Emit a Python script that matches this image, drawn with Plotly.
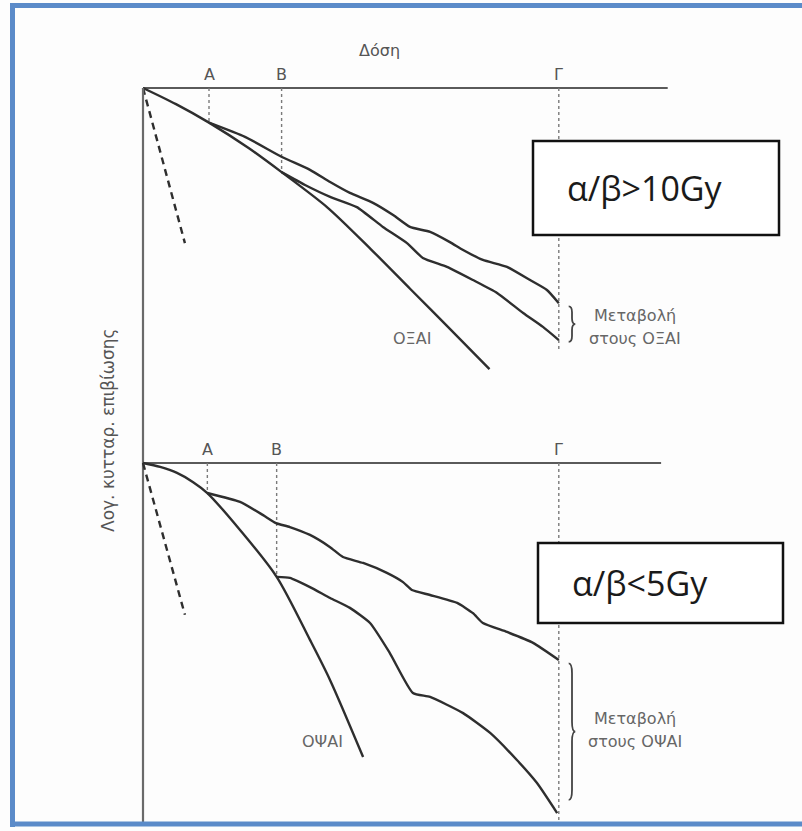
import plotly.graph_objects as go

# ---------------------------------------------------------------------------
# Canvas geometry (pixels)
W, H = 802, 831
PX = 33.0                 # pixels per unit on both axes
X0 = 143                  # pixel column of zero dose
Y0_TOP, Y0_BOT = 88, 463  # pixel rows of zero log-survival in each panel

# ---------------------------------------------------------------------------
# Dose marks (same dose units as the curves)
top_mark_names = ["A", "B", "Γ"]
top_mark_doses = [2.0, 4.2, 12.6]
bot_mark_names = ["A", "B", "Γ"]
bot_mark_doses = [1.95, 4.05, 12.6]

# Upper panel: early-responding tissues (α/β > 10 Gy)
top_single_dose = [0, 1.0, 2.0, 3.2, 4.2, 5.6, 6.9, 8.1, 9.3, 10.5]
top_single_logs = [0, -0.49, -1.05, -1.82, -2.55, -3.63, -4.88, -6.09, -7.30, -8.52]

top_fracA_dose = [2.0, 3.09, 4.21, 5.06, 5.67, 6.27, 6.97, 7.58, 8.09, 8.70,
                  9.30, 9.70, 10.30, 11.03, 11.73, 12.24, 12.6]
top_fracA_logs = [-1.05, -1.48, -2.09, -2.48, -2.85, -3.18, -3.48, -3.85, -4.21, -4.36,
                  -4.67, -4.91, -5.21, -5.42, -5.82, -6.12, -6.52]

top_fracB_dose = [4.2, 4.91, 5.67, 6.48, 7.27, 8.0, 8.48, 9.21, 10.0, 10.73,
                  11.52, 12.12, 12.6]
top_fracB_logs = [-2.55, -2.94, -3.30, -3.61, -4.21, -4.70, -5.15, -5.42, -5.82, -6.21,
                  -6.82, -7.24, -7.64]

top_steep_dose = [0, 1.27]
top_steep_logs = [0, -4.70]

# Lower panel: late-responding tissues (α/β < 5 Gy)
bot_single_dose = [0, 0.52, 1.03, 1.52, 1.95, 2.94, 4.05, 5.06, 5.67, 6.67]
bot_single_logs = [0, -0.12, -0.30, -0.58, -0.91, -2.03, -3.45, -5.36, -6.58, -8.91]

bot_fracA_dose = [1.95, 2.94, 3.64, 4.03, 4.45, 5.06, 5.67, 6.06, 6.67, 7.39, 7.88,
                  8.15, 8.70, 9.52, 10.0, 10.30, 11.03, 11.82, 12.6]
bot_fracA_logs = [-0.91, -1.18, -1.58, -1.82, -1.94, -2.18, -2.55, -2.85, -3.03, -3.33,
                  -3.61, -3.85, -4.0, -4.24, -4.55, -4.85, -5.12, -5.45, -5.97]

bot_fracB_dose = [4.05, 4.45, 5.06, 5.67, 6.27, 6.88, 7.48, 8.18, 8.70, 9.70, 10.52,
                  11.33, 11.94, 12.55]
bot_fracB_logs = [-3.45, -3.48, -3.76, -4.09, -4.39, -4.85, -5.76, -6.97, -7.09, -7.58,
                  -8.18, -9.0, -9.70, -10.61]

bot_steep_dose = [0, 1.27]
bot_steep_logs = [0, -4.60]

# Texts
dose_title = "Δόση"
y_title = "Λογ. κυτταρ. επιβίωσης"
top_ratio = "α/β>10Gy"
bot_ratio = "α/β<5Gy"
top_curve_label = "ΟΞΑΙ"
bot_curve_label = "ΟΨΑΙ"
top_change = ["Μεταβολή", "στους ΟΞΑΙ"]
bot_change = ["Μεταβολή", "στους ΟΨΑΙ"]

# ---------------------------------------------------------------------------
CURVE = "#2e2e2e"
AXIS = "#5a5a5a"
DOT = "#7a7a7a"
LABEL = "#666666"
FONT = "DejaVu Sans"
FRAME = "#5b8bc9"


def px_x(p):
    return p / W


def px_y(p):
    return 1 - p / H


fig = go.Figure()


def line(x, y, yaxis, color=CURVE, width=2.4, dash=None, smooth=0.5):
    fig.add_trace(go.Scatter(
        x=x, y=y, yaxis=yaxis, mode="lines", hoverinfo="skip", showlegend=False,
        line=dict(color=color, width=width, dash=dash, shape="spline", smoothing=smooth),
    ))


def panel(yaxis, mark_names, mark_doses, single, fracA, fracB, steep, axis_end):
    # horizontal dose axis
    line([0, axis_end], [0, 0], yaxis, color=AXIS, width=2.2)
    # dotted verticals from the dose axis to the curves
    marks_y = [single[1][single[0].index(mark_doses[0])],
               single[1][single[0].index(mark_doses[1])],
               fracB[1][-1] - 0.33]
    for d, yy in zip(mark_doses, marks_y):
        line([d, d], [0, yy], yaxis, color=DOT, width=1.4, dash="3px,3px")
    line(*single, yaxis, smooth=0.8)
    line(*fracA, yaxis)
    line(*fracB, yaxis)
    line(*steep, yaxis, width=2.4, dash="7px,5px")
    for name, d in zip(mark_names, mark_doses):
        fig.add_annotation(x=d, y=0, xref="x", yref=yaxis, text=name, showarrow=False,
                           xanchor="center", yanchor="bottom", yshift=2,
                           font=dict(family=FONT, size=16, color="#555"))


def brace(yref, x0, ytop, ybot, w=0.2):
    xm = x0 + w / 2
    mid = (ytop + ybot) / 2
    d = min(0.3, (ytop - ybot) / 6)
    path = (f"M {x0},{ytop} Q {xm},{ytop} {xm},{ytop - d} "
            f"L {xm},{mid + d} Q {xm},{mid} {x0 + w},{mid} "
            f"Q {xm},{mid} {xm},{mid - d} L {xm},{ybot + d} Q {xm},{ybot} {x0},{ybot}")
    fig.add_shape(type="path", path=path, xref="x", yref=yref,
                  line=dict(color="#444", width=1.8))


panel("y", top_mark_names, top_mark_doses,
      (top_single_dose, top_single_logs), (top_fracA_dose, top_fracA_logs),
      (top_fracB_dose, top_fracB_logs), (top_steep_dose, top_steep_logs), 15.9)
panel("y2", bot_mark_names, bot_mark_doses,
      (bot_single_dose, bot_single_logs), (bot_fracA_dose, bot_fracA_logs),
      (bot_fracB_dose, bot_fracB_logs), (bot_steep_dose, bot_steep_logs), 15.7)

# shared vertical (log survival) axis running through both panels
line([0, 0], [0, -22.25], "y", color="#6a6a6a", width=2.2)

# braces marking the spread between the fractionated curves at Γ
brace("y", top_mark_doses[2] + 0.3, top_fracA_logs[-1] - 0.1, top_fracB_logs[-1] - 0.05)
brace("y2", bot_mark_doses[2] + 0.3, bot_fracA_logs[-1] - 0.1, bot_fracB_logs[-1] + 0.4)

lbl = dict(family=FONT, size=16, color=LABEL)
ctr = dict(showarrow=False, xanchor="center", yanchor="middle")
fig.add_annotation(x=8.15, y=-7.58, xref="x", yref="y", text=top_curve_label, font=lbl, **ctr)
fig.add_annotation(x=5.45, y=-8.45, xref="x", yref="y2", text=bot_curve_label, font=lbl, **ctr)
for txt, yy in zip(top_change, [-6.88, -7.58]):
    fig.add_annotation(x=14.9, y=yy, xref="x", yref="y", text=txt, font=lbl, **ctr)
for txt, yy in zip(bot_change, [-7.73, -8.45]):
    fig.add_annotation(x=14.9, y=yy, xref="x", yref="y2", text=txt, font=lbl, **ctr)

fig.add_annotation(x=7.18, y=1.15, xref="x", yref="y", text=dose_title,
                   font=dict(family=FONT, size=16, color="#555"), **ctr)
fig.add_annotation(x=px_x(108), y=px_y(430), xref="paper", yref="paper", text=y_title,
                   textangle=-90, font=dict(family=FONT, size=17, color="#555"), **ctr)

# boxed α/β labels
for (l, t, r, b), txt, (cx, cy) in [((533, 141, 779, 235), top_ratio, (645, 188)),
                                     ((538, 543, 783, 623), bot_ratio, (640, 583))]:
    fig.add_shape(type="rect", xref="paper", yref="paper",
                  x0=px_x(l), x1=px_x(r), y0=px_y(b), y1=px_y(t),
                  fillcolor="white", line=dict(color="#111", width=2.5), layer="above")
    fig.add_annotation(x=px_x(cx), y=px_y(cy), xref="paper", yref="paper", text=txt,
                       font=dict(family="Open Sans", size=34, color="#1a1a1a"), **ctr)

# blue frame on the top, left and bottom edges
for x0, y0, x1, y1 in [(10, 5.5, W, 5.5), (12.5, 3, 12.5, 827), (10, 824, W, 824)]:
    fig.add_shape(type="line", xref="paper", yref="paper",
                  x0=px_x(x0), y0=px_y(y0), x1=px_x(x1), y1=px_y(y1),
                  line=dict(color=FRAME, width=5), layer="above")

fig.update_layout(
    width=W, height=H, margin=dict(l=0, r=0, t=0, b=0),
    paper_bgcolor="#fdfdfd", plot_bgcolor="#fdfdfd",
    xaxis=dict(range=[-X0 / PX, (W - X0) / PX], visible=False, fixedrange=True),
    yaxis=dict(range=[-(H - Y0_TOP) / PX, Y0_TOP / PX], visible=False, fixedrange=True),
    yaxis2=dict(range=[-(H - Y0_BOT) / PX, Y0_BOT / PX], visible=False, fixedrange=True,
                overlaying="y"),
    showlegend=False,
)

fig.write_html("out.html")
